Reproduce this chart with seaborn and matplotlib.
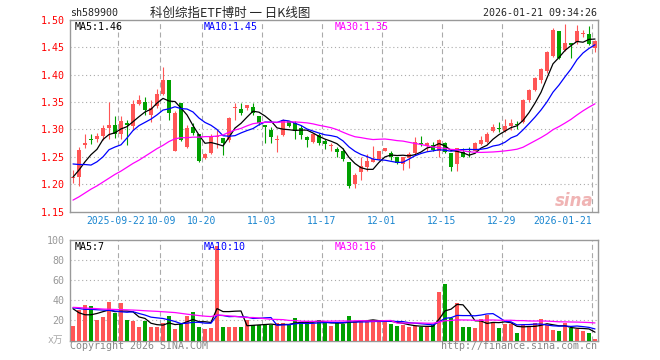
import matplotlib
matplotlib.use("Agg")
import matplotlib.pyplot as plt
import matplotlib.transforms as mtransforms
import seaborn as sns
import pandas as pd

# 交易日 (2025-09-10 .. 2026-01-21, 去掉节假日)
holidays = ['2025-10-01', '2025-10-02', '2025-10-03', '2025-10-06', '2025-10-07',
            '2025-10-08', '2026-01-01', '2026-01-02']
dates = [d.strftime('%Y-%m-%d') for d in pd.bdate_range('2025-09-10', '2026-01-21')
         if d.strftime('%Y-%m-%d') not in holidays]

opens = [1.211, 1.213, 1.272, 1.283, 1.283, 1.288, 1.303, 1.308, 1.291, 1.312,
         1.307, 1.347, 1.351, 1.327, 1.342, 1.365, 1.391, 1.261, 1.349, 1.268,
         1.305, 1.292, 1.247, 1.257, 1.286, 1.284, 1.280, 1.339, 1.337, 1.339,
         1.341, 1.324, 1.308, 1.299, 1.281, 1.290, 1.315, 1.312, 1.302, 1.286,
         1.278, 1.290, 1.279, 1.270, 1.264, 1.261, 1.241, 1.200, 1.223, 1.231,
         1.241, 1.246, 1.261, 1.257, 1.250, 1.237, 1.247, 1.257, 1.276, 1.270,
         1.272, 1.261, 1.276, 1.257, 1.237, 1.258, 1.260, 1.261, 1.274, 1.277,
         1.298, 1.302, 1.297, 1.307, 1.310, 1.313, 1.353, 1.373, 1.390, 1.406,
         1.434, 1.479, 1.445, 1.458, 1.459, 1.474, 1.475, 1.449]
highs = [1.226, 1.268, 1.292, 1.292, 1.293, 1.309, 1.350, 1.324, 1.324, 1.318,
         1.354, 1.363, 1.359, 1.354, 1.374, 1.414, 1.391, 1.333, 1.349, 1.309,
         1.312, 1.292, 1.257, 1.292, 1.299, 1.284, 1.323, 1.349, 1.349, 1.345,
         1.349, 1.324, 1.309, 1.305, 1.290, 1.319, 1.316, 1.315, 1.309, 1.288,
         1.294, 1.294, 1.282, 1.276, 1.268, 1.266, 1.241, 1.220, 1.250, 1.255,
         1.270, 1.261, 1.267, 1.261, 1.250, 1.249, 1.258, 1.287, 1.288, 1.278,
         1.278, 1.282, 1.278, 1.257, 1.267, 1.266, 1.268, 1.278, 1.288, 1.296,
         1.310, 1.313, 1.319, 1.319, 1.316, 1.355, 1.374, 1.396, 1.412, 1.443,
         1.485, 1.479, 1.492, 1.458, 1.490, 1.482, 1.489, 1.463]
lows = [1.203, 1.196, 1.266, 1.273, 1.278, 1.281, 1.282, 1.284, 1.282, 1.271,
        1.299, 1.345, 1.327, 1.313, 1.339, 1.363, 1.318, 1.260, 1.279, 1.266,
        1.290, 1.241, 1.246, 1.255, 1.266, 1.254, 1.278, 1.318, 1.327, 1.336,
        1.327, 1.309, 1.276, 1.275, 1.258, 1.288, 1.305, 1.282, 1.283, 1.268,
        1.276, 1.272, 1.264, 1.261, 1.249, 1.243, 1.194, 1.194, 1.207, 1.225,
        1.241, 1.244, 1.260, 1.244, 1.237, 1.226, 1.229, 1.255, 1.269, 1.261,
        1.260, 1.249, 1.257, 1.225, 1.225, 1.249, 1.250, 1.260, 1.272, 1.276,
        1.296, 1.296, 1.296, 1.299, 1.301, 1.312, 1.351, 1.371, 1.385, 1.403,
        1.432, 1.429, 1.443, 1.431, 1.457, 1.469, 1.455, 1.442]
closes = [1.212, 1.263, 1.276, 1.280, 1.288, 1.302, 1.308, 1.292, 1.315, 1.309,
          1.347, 1.354, 1.335, 1.340, 1.365, 1.390, 1.330, 1.330, 1.281, 1.302,
          1.293, 1.243, 1.255, 1.288, 1.288, 1.276, 1.321, 1.340, 1.331, 1.345,
          1.330, 1.312, 1.305, 1.286, 1.282, 1.318, 1.307, 1.298, 1.290, 1.281,
          1.292, 1.276, 1.273, 1.271, 1.258, 1.246, 1.197, 1.217, 1.233, 1.243,
          1.246, 1.261, 1.267, 1.250, 1.238, 1.249, 1.255, 1.278, 1.274, 1.275,
          1.263, 1.281, 1.258, 1.232, 1.266, 1.250, 1.259, 1.275, 1.280, 1.292,
          1.305, 1.301, 1.307, 1.312, 1.309, 1.353, 1.373, 1.394, 1.410, 1.441,
          1.482, 1.431, 1.458, 1.454, 1.479, 1.475, 1.457, 1.461]
volumes = [14.3, 30.3, 35.3, 34.3, 20.3, 23.3, 38.6, 27.0, 37.3, 20.3,
           19.3, 13.3, 19.6, 13.3, 13.3, 17.0, 24.3, 11.3, 16.3, 24.3,
           28.3, 13.3, 11.3, 12.3, 93.6, 13.3, 13.3, 13.3, 13.3, 20.3,
           15.3, 15.3, 15.3, 15.3, 17.0, 17.0, 15.3, 22.3, 18.3, 18.3,
           16.6, 20.3, 18.3, 14.3, 17.6, 16.3, 24.3, 19.3, 19.3, 19.3,
           20.3, 20.3, 19.3, 16.3, 14.3, 15.3, 13.3, 14.6, 13.6, 13.6,
           15.3, 48.6, 56.3, 22.0, 37.3, 13.3, 13.3, 12.3, 21.0, 25.0,
           18.3, 12.3, 16.3, 16.3, 7.3, 15.5, 14.3, 17.0, 21.3, 15.3,
           10.3, 9.3, 17.3, 12.6, 11.3, 9.3, 7.0, 1.3]

# 窗口开头的均线值 (图上读取, 之前的数据不可见)
ma5_head = [1.213, 1.226, 1.241, 1.254]
ma10_head = [1.237, 1.236, 1.236, 1.235, 1.241, 1.250, 1.263, 1.268, 1.272]
ma30_head = [1.171, 1.177, 1.184, 1.191, 1.197, 1.204, 1.211, 1.218, 1.224, 1.231,
             1.238, 1.244, 1.251, 1.258, 1.265, 1.271, 1.278, 1.283, 1.285, 1.285,
             1.286, 1.286, 1.287, 1.287, 1.288, 1.290, 1.295, 1.299, 1.302]
vma5_head = [31.6, 27.6, 25.6, 25.6]
vma10_head = [32.6, 31.8, 31.0, 31.0, 30.6, 30.3, 30.0, 29.3, 28.6]
vma30_head = [33.0, 32.7, 32.3, 32.0, 31.7, 31.3, 31.1, 30.9, 30.7, 30.5,
              30.3, 30.0, 29.6, 29.3, 29.0, 28.6, 28.2, 27.8, 27.0, 26.2,
              25.5, 24.8, 24.2, 23.8, 25.3, 25.0, 24.5, 24.0, 23.4]

tick_dates = ['2025-09-22', '2025-10-09', '2025-10-20', '2025-11-03', '2025-11-17',
              '2025-12-01', '2025-12-15', '2025-12-29', '2026-01-21']
tick_labels = ['2025-09-22', '10-09', '10-20', '11-03', '11-17',
               '12-01', '12-15', '12-29', '2026-01-21']
price_ticks = [1.15, 1.20, 1.25, 1.30, 1.35, 1.40, 1.45, 1.50]
vol_ticks = [20, 40, 60, 80, 100]

RED = '#ff5656'
GREEN = '#00a000'
GRID = '#aaaaaa'
MONO = 'DejaVu Sans Mono'


def moving_avg(values, n, head):
    s = pd.Series(values).rolling(n).mean()
    s.iloc[:len(head)] = head
    return s


df = pd.DataFrame({'date': dates, 'open': opens, 'high': highs, 'low': lows,
                   'close': closes, 'vol': volumes})
df['i'] = range(len(df))
df['dir'] = ['up' if c >= o else 'down' for o, c in zip(opens, closes)]
df['color'] = [RED if d == 'up' else GREEN for d in df['dir']]
df['body_lo'] = df[['open', 'close']].min(axis=1)
df['body_h'] = (df['close'] - df['open']).abs().clip(lower=0.0015)

sns.set_theme(style='white')
plt.rcParams['font.family'] = [MONO, 'Noto Sans CJK SC']

fig = plt.figure(figsize=(6.6, 3.6), dpi=100)
W, H = 660, 360
ax = fig.add_axes([70 / W, 1 - 211.6 / H, 528 / W, 191.6 / H])
ax2 = fig.add_axes([70 / W, 1 - 340.5 / H, 528 / W, 100.5 / H])

# K线
ax.vlines(df['i'], df['low'], df['high'], colors=df['color'], lw=0.8, zorder=3)
ax.bar(df['i'], df['body_h'], bottom=df['body_lo'], width=0.8,
       color=df['color'], lw=0, zorder=4)
for n, head, c in [(5, ma5_head, 'black'), (10, ma10_head, '#0000ff'),
                   (30, ma30_head, '#ff00ff')]:
    sns.lineplot(x=df['i'], y=moving_avg(closes, n, head), ax=ax, color=c,
                 lw=0.9, estimator=None, zorder=5)

# 成交量
sns.barplot(data=df, x='i', y='vol', hue='dir', palette={'up': RED, 'down': GREEN},
            native_scale=True, dodge=False, width=0.8, saturation=1, lw=0,
            errorbar=None, legend=False, ax=ax2, zorder=3)
for n, head, c in [(5, vma5_head, 'black'), (10, vma10_head, '#0000ff'),
                   (30, vma30_head, '#ff00ff')]:
    sns.lineplot(x=df['i'], y=moving_avg(volumes, n, head), ax=ax2, color=c,
                 lw=0.9, estimator=None, zorder=5)

tick_pos = [dates.index(d) - 0.5 for d in tick_dates]
for a, ylo, yhi, hlines in [(ax, 1.15, 1.50, price_ticks[1:-1]),
                            (ax2, 0, 100, vol_ticks[:-1])]:
    a.set_xlim(-0.5, len(dates) - 0.5)
    a.set_ylim(ylo, yhi)
    a.set_xlabel('')
    a.set_ylabel('')
    a.grid(False)
    for y in hlines:
        a.axhline(y, color=GRID, lw=0.8, ls=(0, (1, 2.5)), zorder=1)
    for p in tick_pos:
        a.axvline(p, color=GRID, lw=0.8, ls=(0, (4.5, 3)), zorder=1)
    for s in a.spines.values():
        s.set_color('#999999')
        s.set_linewidth(1.0)
    a.tick_params(length=0, pad=4)

ax.set_yticks(price_ticks)
ax.set_yticklabels([f'{t:.2f}' for t in price_ticks], color='red', fontsize=7.2)
ax.set_xticks(tick_pos)
ax.set_xticklabels(tick_labels, color='#1a86d0', fontsize=7.0)
ax.tick_params(axis='x', pad=3)
xlabels = ax.get_xticklabels()
xlabels[-1].set_ha('right')
# 前两个标签在原图中紧挨着, 稍微分开
for lbl, dx in [(xlabels[0], -2), (xlabels[1], 2)]:
    lbl.set_transform(lbl.get_transform() +
                      mtransforms.ScaledTranslation(dx / 100, 0, fig.dpi_scale_trans))

ax2.set_yticks(vol_ticks)
ax2.set_yticklabels([str(t) for t in vol_ticks], color='#999999', fontsize=7.2)
ax2.set_xticks([])


def put(px, py, s, **kw):
    kw.setdefault('fontsize', 7.2)
    kw.setdefault('va', 'center')
    fig.text(px / W, 1 - py / H, s, **kw)


put(70, 13, 'sh589900')
put(150, 13, '科创综指ETF博时 一 日K线图', fontsize=9,
    family=['Noto Sans CJK SC', 'DejaVu Sans'])
put(597, 13, '2026-01-21 09:34:26', ha='right')
put(75, 26.5, 'MA5:1.46', color='black')
put(204, 26.5, 'MA10:1.45', color='#0000ff')
put(335, 26.5, 'MA30:1.35', color='#ff00ff')
put(75, 246.5, 'MA5:7', color='black')
put(204, 246.5, 'MA10:10', color='#0000ff')
put(335, 246.5, 'MA30:16', color='#ff00ff')
put(48, 340, 'x万', color='#aaaaaa', fontsize=7)
put(70, 346, 'Copyright 2026 SINA.COM', color='#888888')
put(597, 346, 'http://finance.sina.com.cn', color='#888888', ha='right')
put(594, 201, 'sina', color='#f0b4b4', ha='right', fontsize=12,
    style='italic', weight='bold', family='DejaVu Sans')

fig.savefig('out.png', dpi=100)
